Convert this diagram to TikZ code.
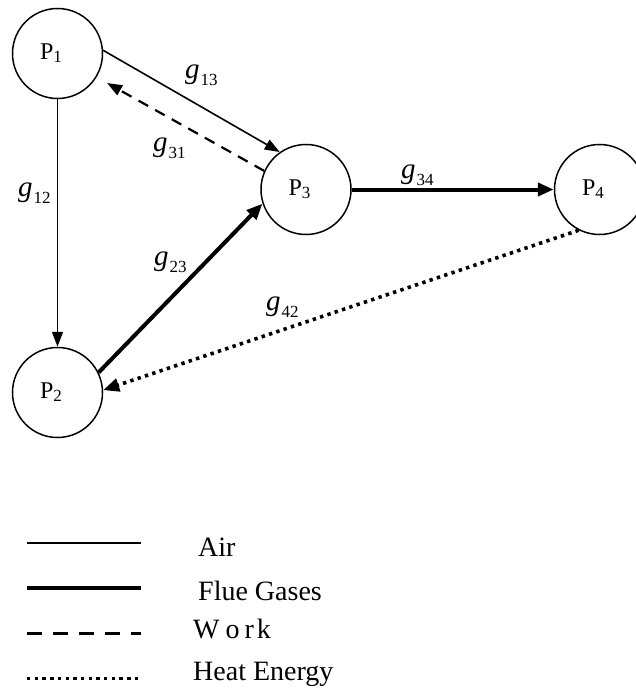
\documentclass[tikz,border=0pt]{standalone}
\usepackage{fontspec}
\setmainfont{Liberation Serif}
\usetikzlibrary{arrows.meta}
\newcommand\plab[1]{{\fontsize{24}{24}\selectfont P\raisebox{-3pt}{\fontsize{17}{17}\selectfont #1}}}
\newcommand\glab[1]{{\fontsize{29}{29}\selectfont\itshape g}\hspace{1pt}\raisebox{-7pt}{\fontsize{17}{17}\selectfont #1}}
\tikzset{
  pcirc/.style={circle, draw, line width=1.5pt, minimum size=90pt, inner sep=0pt},
  airline/.style={line width=1.6pt},
  flueline/.style={line width=4pt},
  workline/.style={line width=2.2pt, dash pattern=on 11pt off 8pt},
  heatline/.style={line width=3.6pt, dash pattern=on 3.4pt off 4.3pt},
  thintip/.style={-{Triangle[length=15pt,width=11pt]}},
  thicktip/.style={-{Triangle[length=16pt,width=13pt]}},
  glabel/.style={anchor=base west, inner sep=0pt},
  legtext/.style={anchor=base west, inner sep=0pt, font=\fontsize{28}{28}\selectfont},
  legwork/.style={line width=3.6pt, dash pattern=on 15.3pt off 10.7pt},
}
\begin{document}
\begin{tikzpicture}[x=1pt,y=1pt]
\useasboundingbox (0,0) rectangle (635,-690);
% process nodes
\node[pcirc] (p1) at (57.5,-53.5) {\plab{1}\hspace*{13pt}};
\node[pcirc] (p2) at (57.5,-392.5) {\plab{2}\hspace*{13pt}};
\node[pcirc] (p3) at (306,-189.5) {\plab{3}\hspace*{13pt}};
\node[pcirc] (p4) at (599.5,-189.5) {\plab{4}\hspace*{13pt}};
% connectors
\coordinate (t31) at (107,-83);
\draw[airline, thintip] (p1.4.4) -- (p3.125.5);
\draw[workline, thintip] (p3.156) -- (t31);
\draw[airline, thintip] (p1.south) -- (p2.north);
\draw[flueline, thicktip] (p2.26) -- (p3.198.6);
\draw[flueline, thicktip] (p3.east) -- (p4.west);
\draw[heatline, thicktip] (p4.243) -- (p2.3);
% labels
\node[glabel] (l13) at (185,-79) {\glab{13}};
\node[glabel] (l31) at (153,-151) {\glab{31}};
\node[glabel] (l12) at (18,-196) {\glab{12}};
\node[glabel] (l23) at (154,-265) {\glab{23}};
\node[glabel] (l34) at (401,-178) {\glab{34}};
\node[glabel] (l42) at (266,-310) {\glab{42}};
% legend
\coordinate (a1) at (27,-543); \coordinate (a2) at (141,-543);
\coordinate (f1) at (27,-588.3); \coordinate (f2) at (141,-588.3);
\coordinate (w1) at (27,-633.3); \coordinate (w2) at (141,-633.3);
\coordinate (h1) at (27,-678.3); \coordinate (h2) at (141,-678.3);
\draw[airline] (a1) -- (a2);
\draw[flueline] (f1) -- (f2);
\draw[legwork] (w1) -- (w2);
\draw[heatline] (h1) -- (h2);
\node[legtext] (tair) at (198,-556) {Air};
\node[legtext] (tflue) at (198,-600) {Flue Gases};
\node[legtext] (twork) at (193,-638) {W\hspace{6pt}o\hspace{5pt}r\hspace{3pt}k};
\node[legtext] (theat) at (193,-680) {Heat Energy};
\end{tikzpicture}
\end{document}
